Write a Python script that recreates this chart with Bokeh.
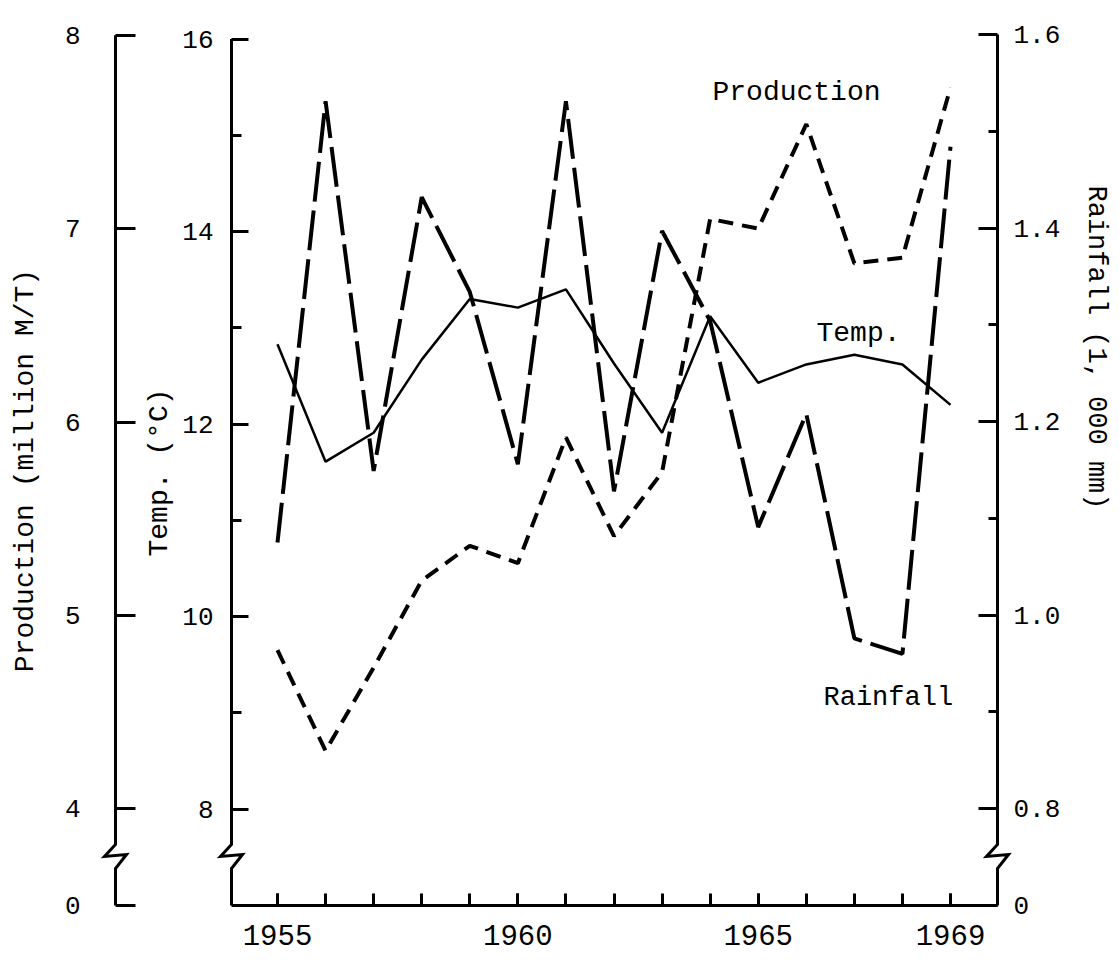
import math
from bokeh.plotting import figure
from bokeh.models import Range1d, LinearAxis, FixedTicker, Label
from bokeh.embed import file_html
from bokeh.resources import INLINE

# ---------------- data ----------------
years = list(range(1955, 1970))
production = [4.82, 4.30, 4.73, 5.18, 5.36, 5.27, 5.92, 5.41, 5.74, 7.05, 7.00, 7.54, 6.82, 6.85, 7.73]
temperature = [12.83, 11.61, 11.91, 12.67, 13.30, 13.21, 13.40, 12.63, 11.91, 13.12, 12.43, 12.62, 12.72, 12.62, 12.20]
rainfall = [1.075, 1.531, 1.149, 1.432, 1.334, 1.156, 1.531, 1.128, 1.397, 1.304, 1.091, 1.208, 0.976, 0.960, 1.484]

x_major = [1955, 1960, 1965, 1969]
x_minor = years
temp_ticks = [8, 10, 12, 14, 16]
temp_minor = [9, 11, 13, 15]
prod_ticks = [3.5, 4, 5, 6, 7, 8]
prod_labels = ["0", "4", "5", "6", "7", "8"]
rain_ticks = [0.7, 0.8, 1.0, 1.2, 1.4, 1.6]
rain_labels = ["0", "0.8", "1.0", "1.2", "1.4", "1.6"]
rain_minor = [0.9, 1.1, 1.3, 1.5]

# ---------------- layout (canvas pixels) ----------------
W, H = 1116, 960
BASE_SY = 905            # screen y of broken-axis origin
X1955_SX, X1969_SX = 277, 950
kx = (X1969_SX - X1955_SX) / 14.0
x_start = 1955 - X1955_SX / kx
x_end = x_start + W / kx


def yrange(base_v, top_v, top_sy):
    k = (BASE_SY - top_sy) / (top_v - base_v)
    start = base_v - (H - BASE_SY) / k
    end = top_v + top_sy / k
    return start, end, k


t_s, t_e, kt = yrange(7.0, 16.0, 38.5)
p_s, p_e, kp = yrange(3.5, 8.0, 34.7)
r_s, r_e, kr = yrange(0.7, 1.6, 34.0)


def xd(sx):
    return x_start + sx / kx


def td(sy):
    return t_e - sy / kt


def pd(sy):
    return p_e - sy / kp


def rd(sy):
    return r_e - sy / kr


FONT = "Liberation Mono"

p = figure(width=W, height=H, x_range=Range1d(x_start, x_end), y_range=Range1d(t_s, t_e),
           output_backend="svg", toolbar_location=None, min_border=0,
           x_axis_location=None, y_axis_location=None, title=None)
p.extra_y_ranges = {"prod": Range1d(p_s, p_e), "rain": Range1d(r_s, r_e)}
p.outline_line_color = None
p.grid.grid_line_color = None
p.background_fill_color = "white"
p.border_fill_color = "white"


def style(ax, tick_in, minor_in, standoff, font_size="26px"):
    ax.major_tick_in = tick_in
    ax.major_tick_out = 0
    ax.minor_tick_in = minor_in
    ax.minor_tick_out = 0
    ax.major_tick_line_width = 3
    ax.minor_tick_line_width = 3
    ax.major_tick_line_color = "black"
    ax.minor_tick_line_color = "black"
    ax.major_label_standoff = standoff
    ax.major_label_text_font = FONT
    ax.major_label_text_font_size = font_size
    ax.major_label_text_color = "black"
    ax.axis_label_text_font = FONT
    ax.axis_label_text_font_style = "normal"
    ax.axis_label_text_color = "black"
    ax.axis_label_text_font_size = "28px"


PROD_SX, TEMP_SX, RAIN_SX = 115, 231, 997

# Production axis (outer left)
prod_axis = LinearAxis(y_range_name="prod", fixed_location=xd(PROD_SX),
                       ticker=FixedTicker(ticks=prod_ticks, minor_ticks=[]),
                       axis_label="Production (million M/T)", bounds=(3.5, 8.0))
prod_axis.major_label_overrides = {t: l for t, l in zip(prod_ticks, prod_labels)}
style(prod_axis, 20, 0, 35)
prod_axis.axis_label_standoff = 21
prod_axis.axis_line_color = None
p.add_layout(prod_axis, "left")

# Temperature axis (inner left)
temp_axis = LinearAxis(fixed_location=xd(TEMP_SX),
                       ticker=FixedTicker(ticks=temp_ticks, minor_ticks=temp_minor),
                       axis_label="Temp. (°C)", bounds=(7.0, 16.0))
style(temp_axis, 17, 10, 18)
temp_axis.axis_label_standoff = 4
temp_axis.axis_line_color = None
p.add_layout(temp_axis, "left")

# Rainfall axis (right)
rain_axis = LinearAxis(y_range_name="rain", fixed_location=xd(RAIN_SX),
                       ticker=FixedTicker(ticks=rain_ticks, minor_ticks=rain_minor),
                       bounds=(0.7, 1.6))
rain_axis.major_label_overrides = {t: l for t, l in zip(rain_ticks, rain_labels)}
style(rain_axis, 19, 9, 16)
rain_axis.axis_line_color = None
p.add_layout(rain_axis, "right")

# Year axis (bottom)
x_axis = LinearAxis(fixed_location=td(BASE_SY),
                    ticker=FixedTicker(ticks=x_major, minor_ticks=x_minor),
                    bounds=(xd(TEMP_SX), xd(RAIN_SX)))
style(x_axis, 12, 12, 19, "29px")
x_axis.axis_line_width = 3
x_axis.axis_line_color = "black"
p.add_layout(x_axis, "below")

# Rainfall axis title (reads top to bottom)
p.add_layout(Label(x=xd(1095), y=td(347), text="Rainfall (1, 000 mm)", text_font=FONT,
                   text_font_size="27px", text_color="black", angle=-math.pi / 2,
                   text_align="center", text_baseline="middle"))


# Axis spines with break marks
def spine(sx, top_sy, conv, rname):
    pts = [(sx, top_sy), (sx, 844), (sx - 11, 856), (sx + 11, 854), (sx, 868), (sx, BASE_SY)]
    xs = [xd(a) for a, b in pts]
    ys = [conv(b) for a, b in pts]
    kw = {} if rname is None else {"y_range_name": rname}
    p.line(xs, ys, line_color="black", line_width=3, line_join="miter", **kw)


spine(PROD_SX, 34.7, pd, "prod")
spine(TEMP_SX, 38.5, td, None)
spine(RAIN_SX, 34.0, rd, "rain")

# Data lines
p.line(years, temperature, line_color="black", line_width=2.5)
p.line(years, production, y_range_name="prod", line_color="black", line_width=4,
       line_dash="15 9")
p.line(years, rainfall, y_range_name="rain", line_color="black", line_width=4,
       line_dash="40 9")

# Series labels
for txt, sx, sy, fs in [("Production", 712, 92, "28px"), ("Temp.", 816, 333, "28px"),
                        ("Rainfall", 823, 697, "27px")]:
    p.add_layout(Label(x=xd(sx), y=td(sy), text=txt, text_font=FONT,
                       text_font_size=fs, text_color="black",
                       text_baseline="alphabetic", text_align="left"))

open("out.html", "w").write(file_html(p, INLINE))
